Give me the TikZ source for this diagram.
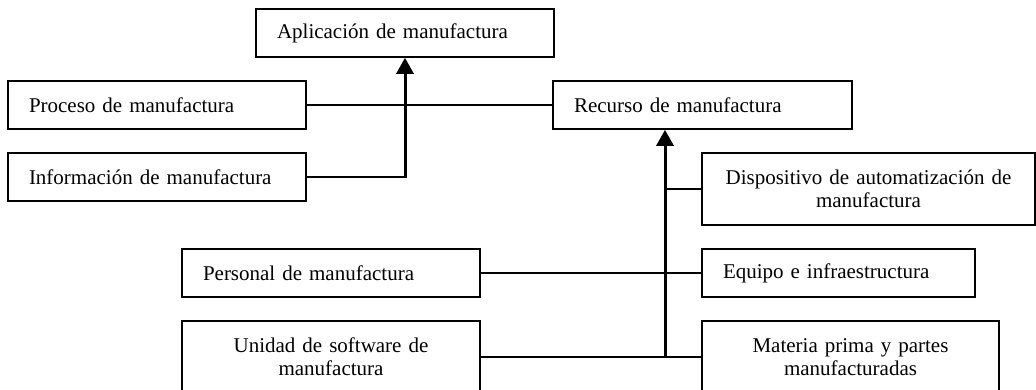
\documentclass[tikz,border=0pt]{standalone}
\usepackage{fontspec}
\setmainfont{Liberation Serif}
\usetikzlibrary{arrows.meta}
\tikzset{
  box/.style={draw, line width=1.6pt, inner xsep=21pt, inner ysep=0pt,
    font=\fontsize{21}{23}\selectfont},
  lbox/.style={box, align=left, minimum height=48pt},
  cbox/.style={box, align=center, minimum height=72pt},
  conn/.style={line width=1.8pt},
  main/.style={line width=3pt, -{Triangle[length=16pt,width=17pt]}}
}
\begin{document}
\begin{tikzpicture}[x=1pt,y=-1pt]
\clip (0,0) rectangle (1036,390);
\node[lbox, text width=256pt] (apl) at (405,33) {Aplicación de manufactura};
\node[lbox, text width=256pt] (proc) at (157,105) {Proceso de manufactura};
\node[lbox, text width=256pt] (info) at (157,177) {Información de manufactura};
\node[lbox, text width=257pt] (rec) at (702.5,105) {Recurso de manufactura};
\node[cbox, text width=291pt] (disp) at (868.5,189) {Dispositivo de automatización de\\manufactura};
\node[lbox, text width=256pt] (pers) at (331,273) {Personal de manufactura};
\node[lbox, text width=231pt] (equ) at (838.5,273) {Equipo e infraestructura};
\node[cbox, text width=256pt] (uni) at (331,357) {Unidad de software de\\manufactura};
\node[cbox, text width=255pt] (mat) at (850.5,357) {Materia prima y partes\\manufacturadas};
\coordinate (vr) at (665,357);
\coordinate (va) at (info.east -| apl.south);
\draw[conn] (proc.east) -- (rec.west);
\draw[conn] (info.east) -- ([xshift=1.5pt]va);
\draw[main] (va) -- (apl.south);
\draw[conn] (pers.east) -- (equ.west);
\draw[conn] (uni.east) -- (mat.west);
\draw[conn] (disp.west) -- (disp.west -| vr);
\draw[main] (vr) -- (vr |- rec.south);
\end{tikzpicture}
\end{document}
